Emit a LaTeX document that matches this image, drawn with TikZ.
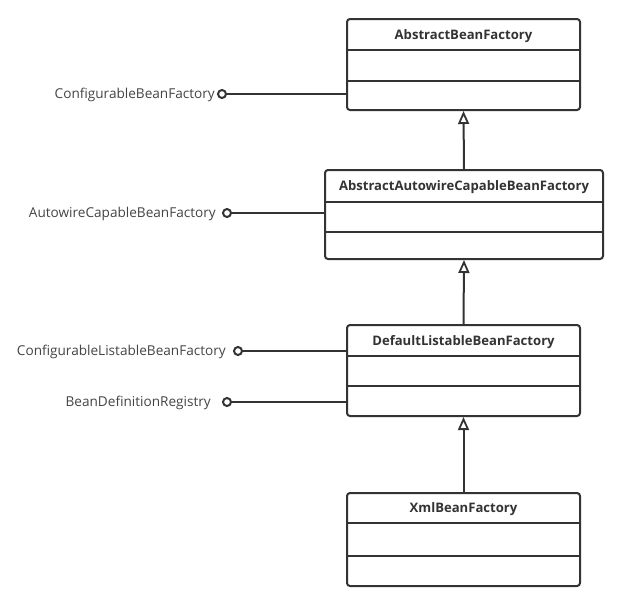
\documentclass[tikz,border=0pt]{standalone}
\usepackage{fontspec}
\setmainfont{Open Sans}
\usetikzlibrary{arrows.meta,calc}
\definecolor{ink}{HTML}{333333}
\definecolor{label}{HTML}{444444}
\begin{document}
\begin{tikzpicture}[x=1pt,y=-1pt,
  classbox/.style={draw=ink, line width=2pt, rounded corners=3pt, fill=white, inner sep=0pt},
  divider/.style={draw=ink, line width=2pt},
  title/.style={font=\fontsize{13.1}{15}\selectfont\bfseries, text=ink},
  iname/.style={font=\fontsize{13.6}{15}\selectfont, text=label, anchor=east, inner sep=0pt},
  lollipop/.style={circle, draw=ink, line width=2pt, fill=white, minimum size=8pt, inner sep=0pt},
  link/.style={draw=ink, line width=2pt},
  inherit/.style={draw=ink, line width=2pt, -{Triangle[open, length=13pt, width=11pt, line width=1.8pt]}}
]
\useasboundingbox (0,0) rectangle (635,614);

% class boxes
\node[classbox, minimum width=233pt, minimum height=91pt] (b1) at (463.5,64.5) {};
\node[classbox, minimum width=278pt, minimum height=89pt] (b2) at (464,214.5) {};
\node[classbox, minimum width=233pt, minimum height=91pt] (b3) at (463.5,370.5) {};
\node[classbox, minimum width=233pt, minimum height=93pt] (b4) at (463.5,539.5) {};

% compartments
\draw[divider] ($(b1.north west)+(0,32)$) -- ($(b1.north east)+(0,32)$);
\draw[divider] ($(b1.north west)+(0,63)$) -- ($(b1.north east)+(0,63)$);
\draw[divider] ($(b2.north west)+(0,33)$) -- ($(b2.north east)+(0,33)$);
\draw[divider] ($(b2.north west)+(0,63)$) -- ($(b2.north east)+(0,63)$);
\draw[divider] ($(b3.north west)+(0,32)$) -- ($(b3.north east)+(0,32)$);
\draw[divider] ($(b3.north west)+(0,62)$) -- ($(b3.north east)+(0,62)$);
\draw[divider] ($(b4.north west)+(0,31)$) -- ($(b4.north east)+(0,31)$);
\draw[divider] ($(b4.north west)+(0,64)$) -- ($(b4.north east)+(0,64)$);

% class names
\node[title] (t1) at (463.5,36) {AbstractBeanFactory};
\node[title] (t2) at (464,187) {AbstractAutowireCapableBeanFactory};
\node[title] (t3) at (463.5,342) {DefaultListableBeanFactory};
\node[title] (t4) at (463.5,509) {XmlBeanFactory};

% generalisation
\draw[inherit] (b2.north) -- (b1.south);
\draw[inherit] (b3.north) -- (b2.south);
\draw[inherit] (b4.north) -- (b3.south);

% interfaces
\node[lollipop] (i1) at (222,94) {};
\node[lollipop] (i2) at (227,213) {};
\node[lollipop] (i3) at (238,351) {};
\node[lollipop] (i4) at (227,402) {};

\draw[link] (i1.east) -- (i1.east -| b1.west);
\draw[link] (i2.east) -- (i2.east -| b2.west);
\draw[link] (i3.east) -- (i3.east -| b3.west);
\draw[link] (i4.east) -- (i4.east -| b3.west);

\node[iname] (n1) at (215,95) {ConfigurableBeanFactory};
\node[iname] (n2) at (216,214) {AutowireCapableBeanFactory};
\node[iname] (n3) at (226,352) {ConfigurableListableBeanFactory};
\node[iname] (n4) at (211,403) {BeanDefinitionRegistry};
\end{tikzpicture}
\end{document}
